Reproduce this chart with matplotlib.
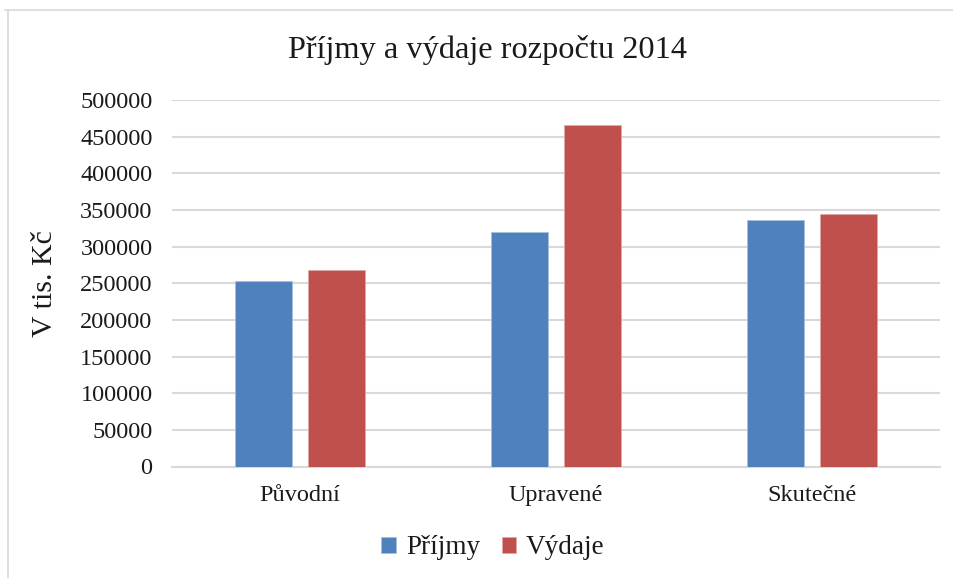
import matplotlib.pyplot as plt
import numpy as np
from matplotlib.lines import Line2D

categories = ["Původní", "Upravené", "Skutečné"]
prijmy = [253000, 320500, 336000]
vydaje = [268000, 466000, 344000]
yticks = [0, 50000, 100000, 150000, 200000, 250000, 300000, 350000, 400000, 450000, 500000]

blue = "#4f81bd"
red = "#c0504d"
grid = "#d9d9d9"

plt.rcParams['font.family'] = ['Liberation Serif', 'DejaVu Serif']

fig = plt.figure(figsize=(9.54, 5.78), dpi=100)
ax = fig.add_axes([172 / 954, 1 - 466.5 / 578, 768 / 954, 366.5 / 578])

x = np.arange(len(categories))
w = 0.223
off = 0.141
ax.bar(x - off, prijmy, w, color=blue, edgecolor="#a7c0de", linewidth=0.6, zorder=3, label="Příjmy")
ax.bar(x + off, vydaje, w, color=red, edgecolor="#e0a8a6", linewidth=0.6, zorder=3, label="Výdaje")

ax.set_xlim(-0.5, 2.5)
ax.set_ylim(0, 500000)
ax.set_yticks(yticks)
ax.set_yticklabels([str(v) for v in yticks], fontsize=17.5)
ax.set_xticks(x)
ax.set_xticklabels(categories, fontsize=17.5)
ax.tick_params(axis="both", length=0, labelcolor="#1a1a1a")
ax.tick_params(axis="y", pad=14)
ax.tick_params(axis="x", pad=13)
ax.yaxis.grid(True, color=grid, linewidth=1.5, zorder=0)
ax.set_axisbelow(True)
for s in ["top", "right", "left"]:
    ax.spines[s].set_visible(False)
ax.spines["bottom"].set_color(grid)
ax.spines["bottom"].set_linewidth(1.5)

ax.set_ylabel("V tis. Kč", fontsize=21.5, color="#1a1a1a")
ax.yaxis.set_label_coords(-0.148, 0.5)
fig.text(488 / 954, 1 - 50 / 578, "Příjmy a výdaje rozpočtu 2014", fontsize=23.3,
         ha="center", va="center", color="#1a1a1a")

leg = fig.legend(loc="center", bbox_to_anchor=(493 / 954, 1 - 548 / 578), ncol=2,
                 frameon=False, fontsize=19.5, handlelength=0.55, handleheight=0.55,
                 handletextpad=0.35, columnspacing=0.8, labelcolor="#1a1a1a")

# chart border (top and left only visible in the crop)
fig.add_artist(Line2D([5 / 954, 1], [1 - 10 / 578] * 2, color=grid, linewidth=1.2))
fig.add_artist(Line2D([8 / 954] * 2, [0, 1 - 10 / 578], color=grid, linewidth=1.2))

fig.savefig("out.png", dpi=100)
